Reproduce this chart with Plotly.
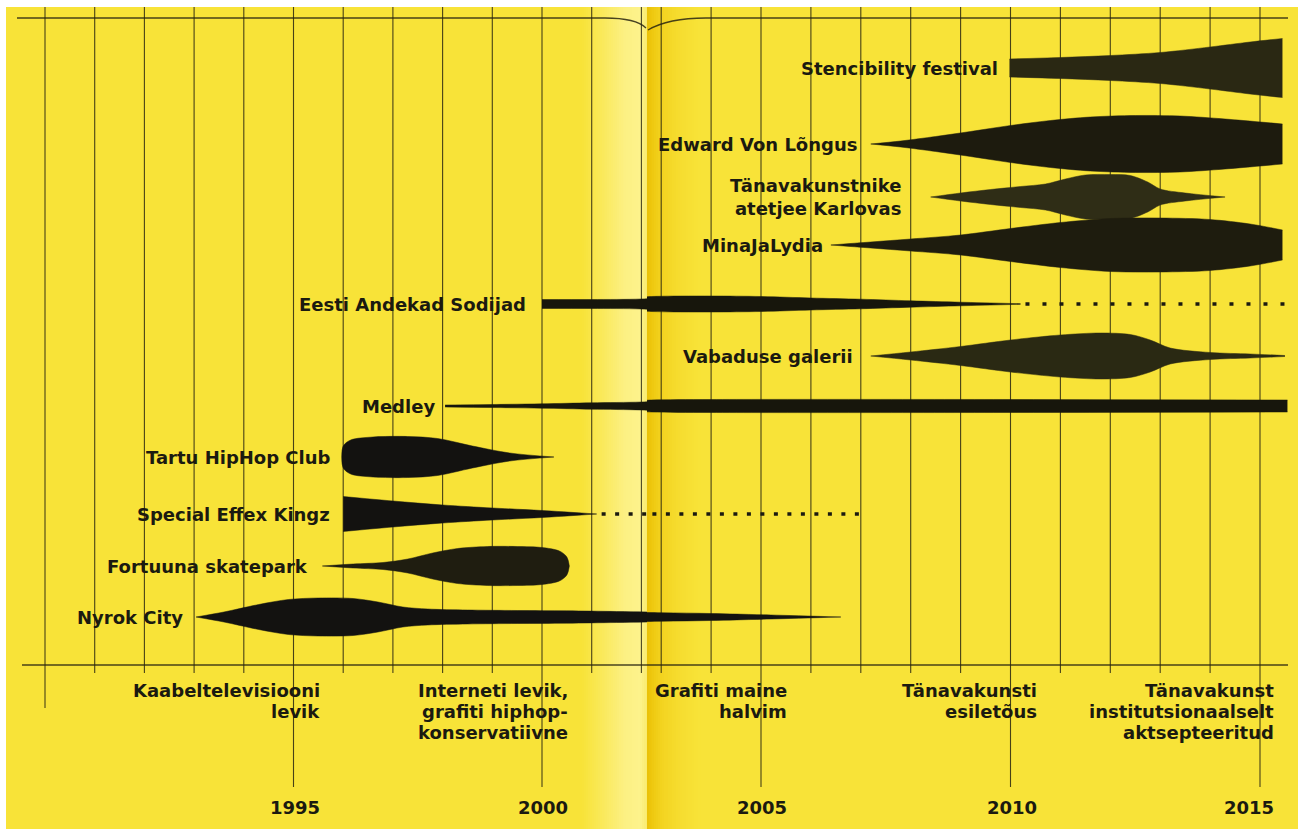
import plotly.graph_objects as go

W, H = 1298, 829

# ------------------------------------------------------------------ data
lane_names = ["Stencibility festival", "Edward Von Lõngus", "Tänavakunstnike<br>atetjee Karlovas",
              "MinaJaLydia", "Eesti Andekad Sodijad", "Vabaduse galerii", "Medley",
              "Tartu HipHop Club", "Special Effex Kingz", "Fortuuna skatepark", "Nyrok City"]
lane_y = [68, 144, 197, 245, 304, 356, 406, 457, 514, 566, 617]

stencibility_years = [2009.98, 2011.0, 2012.0, 2013.0, 2014.0, 2014.8, 2015.45]
stencibility_hw = [9, 10.5, 12.5, 15.5, 21, 26, 29.5]

edward_years = [2007.2, 2007.8, 2008.5, 2009.2, 2010.0, 2010.8, 2011.6, 2012.5, 2013.4, 2014.3, 2015.45]
edward_hw = [0, 3, 7.5, 12.5, 18.5, 23.5, 27, 28.5, 28, 25, 20]

karlovas_years = [2008.4, 2009.0, 2009.6, 2010.2, 2010.7, 2011.1, 2011.5, 2012.0, 2012.4, 2012.75, 2013.0, 2013.5, 2014.3]
karlovas_hw = [0, 4, 7.5, 10.5, 13, 18, 22, 22.5, 21.5, 15, 8, 4, 0]

mina_years = [2006.4, 2007.2, 2008.0, 2009.0, 2010.0, 2011.0, 2012.0, 2013.0, 2014.0, 2014.8, 2015.45]
mina_hw = [0, 3, 6, 10, 16.5, 22.5, 26.5, 27, 25.5, 21, 15]

eesti_years = [2000.0, 2001.0, 2002.0, 2002.8, 2004.0, 2005.0, 2006.0, 2007.0, 2008.0, 2009.0, 2010.2]
eesti_hw = [4.5, 4.5, 5, 7.5, 8, 7.5, 6, 4.8, 3.2, 1.8, 0.3]
eesti_dotted = [2010.3, 2015.5]

vabaduse_years = [2007.2, 2008.0, 2009.0, 2010.0, 2011.0, 2011.8, 2012.4, 2012.8, 2013.2, 2014.0, 2014.8, 2015.5]
vabaduse_hw = [0, 4, 9.5, 16, 21, 23, 21.5, 16, 8, 3.5, 2, 0.5]

medley_years = [1998.05, 1999.0, 2000.0, 2001.0, 2002.0, 2002.8, 2004.0, 2010.0, 2015.55]
medley_hw = [1, 1.5, 2.2, 3.2, 4, 6, 6.5, 6.5, 6]

tartu_years = [1995.97, 1996.0, 1996.15, 1996.6, 1997.3, 1997.9, 1998.6, 1999.35, 2000.24]
tartu_hw = [0, 11, 17, 20, 20.5, 18.5, 11, 4, 0]

special_years = [1996.0, 1997.0, 1998.0, 1999.0, 2000.0, 2001.1]
special_hw = [17.5, 13, 9, 6, 3.5, 0]
special_dotted = [2001.2, 2007.0]

fortuuna_years = [1995.58, 1996.2, 1996.8, 1997.3, 1997.8, 1998.3, 1998.9, 1999.5, 2000.0, 2000.35, 2000.5, 2000.55]
fortuuna_hw = [0, 2, 3.5, 7, 13, 17.5, 19.5, 19.5, 18.5, 15, 9, 0]

nyrok_years = [1993.04, 1993.6, 1994.3, 1994.9, 1995.5, 1996.2, 1996.7, 1997.2, 1997.7, 1998.5,
               1999.5, 2000.5, 2001.5, 2003.0, 2004.0, 2005.2, 2006.6]
nyrok_hw = [0, 5, 12.5, 17.5, 19, 18.5, 15, 10, 8, 7, 6.5, 6.2, 5.5, 4.3, 3.5, 2, 0]

milestone_years = [1995, 2000, 2005, 2010, 2015]
milestone_text = [["Kaabeltelevisiooni", "levik"],
                  ["Interneti levik,", "grafiti hiphop-", "konservatiivne"],
                  ["Grafiti maine", "halvim"],
                  ["Tänavakunsti", "esiletõus"],
                  ["Tänavakunst", "institutsionaalselt", "aktsepteeritud"]]
grid_years = list(range(1990, 2016))

# ------------------------------------------------------------------ style / layout
FONT = "DejaVu Sans"
INK = "#1b1a10"
GRID = "rgba(40,36,16,0.85)"
YELLOW = "#f8e338"
FOLD_PX = 647
LEFT_RANGE = [1990 - 45 / 49.7, 1990 + (FOLD_PX - 45) / 49.7]
RIGHT_RANGE = [2005 - (761 - FOLD_PX) / 49.9, 2005 + (W - 761) / 49.9]
RANGES = {"x": LEFT_RANGE, "x2": RIGHT_RANGE}

series = [
    (stencibility_years, stencibility_hw, "#2a2813"),
    (edward_years, edward_hw, "#1d1b0e"),
    (karlovas_years, karlovas_hw, "#2f2d16"),
    (mina_years, mina_hw, "#1e1c0e"),
    (eesti_years, eesti_hw, "#17160c"),
    (vabaduse_years, vabaduse_hw, "#2a2913"),
    (medley_years, medley_hw, "#17160c"),
    (tartu_years, tartu_hw, "#131210"),
    (special_years, special_hw, "#131210"),
    (fortuuna_years, fortuuna_hw, "#1f1d10"),
    (nyrok_years, nyrok_hw, "#131210"),
]
label_gap = [10, 12, 28, 6, 14, 16, 8, 9, 11, 12, 11]

def xp(px):
    return px / W

def yp(py):
    return 1 - py / H

fig = go.Figure()

def axes_for(x0, x1):
    out = []
    for xa, rng in RANGES.items():
        if x1 >= rng[0] and x0 <= rng[1]:
            out.append(xa)
    return out

for (yrs, hw, col), cy in zip(series, lane_y):
    lower = [cy + h for h in hw]
    upper = [cy - h for h in hw]
    for xa in axes_for(min(yrs), max(yrs)):
        fig.add_trace(go.Scatter(
            x=yrs, y=lower, xaxis=xa, yaxis="y", mode="lines",
            line=dict(width=0.5, color=col, shape="spline", smoothing=0.9),
            hoverinfo="skip", showlegend=False))
        fig.add_trace(go.Scatter(
            x=yrs, y=upper, xaxis=xa, yaxis="y", mode="lines", fill="tonexty",
            fillcolor=col, line=dict(width=0.5, color=col, shape="spline", smoothing=0.9),
            hoverinfo="skip", showlegend=False))

for rng_years, cy, dash in ((eesti_dotted, lane_y[4], "4px,13px"), (special_dotted, lane_y[8], "4px,9.5px")):
    for xa in axes_for(rng_years[0], rng_years[1]):
        fig.add_trace(go.Scatter(
            x=rng_years, y=[cy, cy], xaxis=xa, yaxis="y", mode="lines",
            line=dict(width=3.6, color=INK, dash=dash), hoverinfo="skip", showlegend=False))

# ------------------------------------------------------------------ background
shapes = []
shapes.append(dict(type="rect", xref="paper", yref="paper", x0=xp(6), x1=1, y0=0, y1=yp(7),
                   fillcolor=YELLOW, line=dict(width=0), layer="below"))

def lerp(c1, c2, t):
    return tuple(round(a + (b - a) * t) for a, b in zip(c1, c2))

fold_stops = [(582, (248, 227, 56)), (605, (250, 234, 95)), (624, (252, 240, 130)),
              (640, (253, 243, 140)), (647, (249, 234, 110)),
              (647.01, (234, 192, 8)), (652, (238, 200, 15)), (662, (243, 212, 32)),
              (680, (246, 221, 48)), (700, (248, 227, 56))]
for (p0, c0), (p1, c1) in zip(fold_stops[:-1], fold_stops[1:]):
    x = p0
    while x < p1:
        x2 = min(x + 2, p1)
        t = ((x + x2) / 2 - p0) / (p1 - p0)
        r, g, b = lerp(c0, c1, t)
        shapes.append(dict(type="rect", xref="paper", yref="paper", x0=xp(x), x1=xp(x2 + 0.4),
                           y0=0, y1=yp(7), fillcolor=f"rgb({r},{g},{b})",
                           line=dict(width=0), layer="below"))
        x = x2

# vertical year lines
for yr in grid_years:
    xa = "x" if yr <= 2002 else "x2"
    if yr % 5 == 0 and yr != 1990:
        bottom = 787
    elif yr == 1990:
        bottom = 708
    else:
        bottom = 673
    shapes.append(dict(type="line", xref=xa, yref="paper", x0=yr, x1=yr, y0=yp(7), y1=yp(bottom),
                       line=dict(color=GRID, width=1.1), layer="below"))

# top rule with the page-fold curl, and baseline
shapes.append(dict(type="path", xref="paper", yref="paper",
                   path=f"M {xp(17)},{yp(18)} L {xp(605)},{yp(18)} Q {xp(636)},{yp(18)} {xp(646)},{yp(28)}",
                   line=dict(color=GRID, width=1.3), layer="below"))
shapes.append(dict(type="path", xref="paper", yref="paper",
                   path=f"M {xp(648)},{yp(30)} Q {xp(668)},{yp(18)} {xp(706)},{yp(18)} L {xp(1288)},{yp(18)}",
                   line=dict(color=GRID, width=1.3), layer="below"))
shapes.append(dict(type="line", xref="paper", yref="paper", x0=xp(22), x1=xp(1288),
                   y0=yp(665), y1=yp(665), line=dict(color=GRID, width=1.3), layer="below"))

# ------------------------------------------------------------------ text
annotations = []
label_font = dict(family=FONT, size=18, color=INK, weight="bold")
for name, (yrs, hw, col), cy, gap in zip(lane_names, series, lane_y, label_gap):
    xa = "x" if yrs[0] < 2002.4 else "x2"
    annotations.append(dict(x=yrs[0], y=cy, xref=xa, yref="y", text=name, showarrow=False,
                            xanchor="right", yanchor="middle", xshift=-gap, align="right",
                            font=label_font))

for yr, lines in zip(milestone_years, milestone_text):
    xa = "x" if yr < 2002 else "x2"
    shift = 16 if yr == 2015 else 28
    for i, line in enumerate(lines):
        annotations.append(dict(x=yr, y=690 + 21 * i, xref=xa, yref="y", text=line, showarrow=False,
                                xanchor="right", yanchor="middle", xshift=shift, font=label_font))
    annotations.append(dict(x=yr, y=807, xref=xa, yref="y", text=str(yr), showarrow=False,
                            xanchor="right", yanchor="middle", xshift=shift, font=label_font))

fig.update_layout(
    width=W, height=H, margin=dict(l=0, r=0, t=0, b=0),
    paper_bgcolor="white", plot_bgcolor="rgba(0,0,0,0)", showlegend=False,
    xaxis=dict(domain=[0, FOLD_PX / W], range=LEFT_RANGE, visible=False, fixedrange=True),
    xaxis2=dict(domain=[FOLD_PX / W, 1], range=RIGHT_RANGE, visible=False, anchor="y", fixedrange=True),
    yaxis=dict(domain=[0, 1], range=[H, 0], visible=False, fixedrange=True),
    shapes=shapes, annotations=annotations,
)

fig.write_html("out.html", config={"displayModeBar": False},
               post_script="document.body.style.margin='0';document.body.style.overflow='hidden';")
